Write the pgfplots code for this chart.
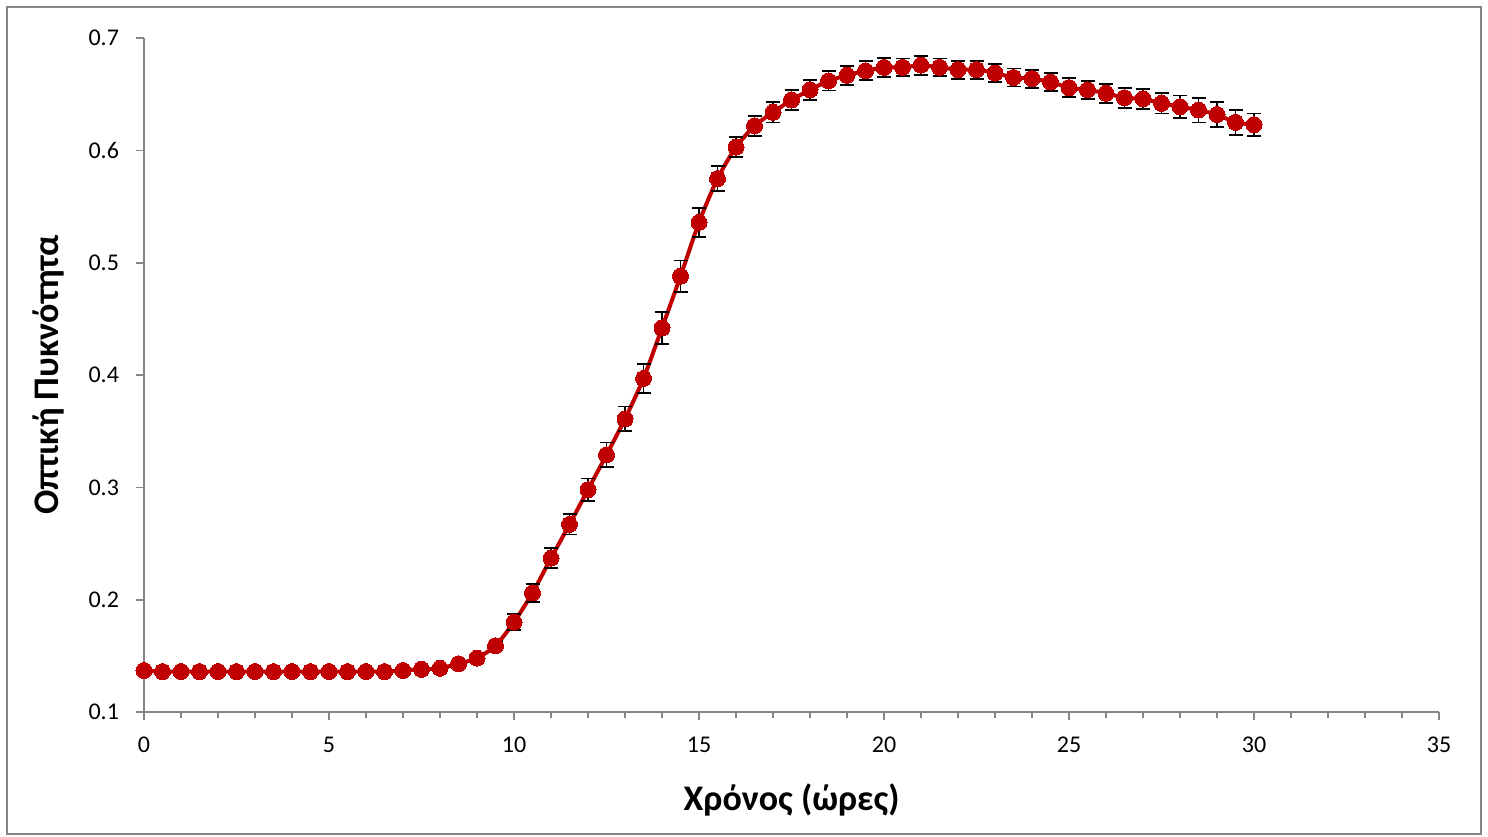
\documentclass[border=0pt]{standalone}
\usepackage{fontspec}
\setmainfont{Carlito}
\usepackage{pgfplots}
\pgfplotsset{compat=1.18}
\usepackage{pgfplotstable}

\definecolor{odred}{HTML}{C00000}
\definecolor{axgray}{HTML}{868686}

% time (h), optical density, standard error
\pgfplotstableread{
t od err
0 0.137 0.002
0.5 0.136 0.002
1 0.136 0.002
1.5 0.136 0.002
2 0.136 0.002
2.5 0.136 0.002
3 0.136 0.002
3.5 0.136 0.002
4 0.136 0.002
4.5 0.136 0.002
5 0.136 0.002
5.5 0.136 0.002
6 0.136 0.002
6.5 0.136 0.002
7 0.137 0.002
7.5 0.138 0.002
8 0.139 0.002
8.5 0.143 0.002
9 0.148 0.003
9.5 0.159 0.004
10 0.180 0.007
10.5 0.206 0.008
11 0.237 0.009
11.5 0.267 0.009
12 0.298 0.010
12.5 0.329 0.011
13 0.361 0.011
13.5 0.397 0.013
14 0.442 0.014
14.5 0.488 0.014
15 0.536 0.013
15.5 0.575 0.011
16 0.603 0.009
16.5 0.622 0.009
17 0.634 0.009
17.5 0.645 0.009
18 0.654 0.009
18.5 0.662 0.0085
19 0.667 0.0085
19.5 0.671 0.0085
20 0.674 0.0085
20.5 0.674 0.008
21 0.676 0.0085
21.5 0.674 0.008
22 0.672 0.008
22.5 0.672 0.008
23 0.669 0.008
23.5 0.665 0.008
24 0.664 0.008
24.5 0.661 0.008
25 0.656 0.0085
25.5 0.654 0.008
26 0.651 0.0085
26.5 0.647 0.009
27 0.646 0.009
27.5 0.642 0.009
28 0.639 0.010
28.5 0.636 0.011
29 0.632 0.011
29.5 0.625 0.011
30 0.623 0.010
}\odtable

\begin{document}
\begin{tikzpicture}
\useasboundingbox (-72pt,-62pt) rectangle (672pt,356pt);
\draw[axgray, line width=0.8pt] (-68.5pt,-61pt) rectangle (668.5pt,352.5pt);
\begin{axis}[
  at={(0pt,0pt)}, anchor=south west,
  scale only axis,
  width=647.5pt, height=336.9pt,
  xmin=0, xmax=35, ymin=0.1, ymax=0.7,
  axis lines*=left,
  axis line style={axgray, line width=0.8pt},
  tick align=outside,
  tick style={axgray, line width=0.8pt},
  major tick length=4pt,
  minor tick length=3pt,
  xtick={0,5,...,35},
  minor x tick num=4,
  ytick={0.1,0.2,...,0.7},
  /pgf/number format/assume math mode=true,
  y tick label style={/pgf/number format/fixed, /pgf/number format/fixed zerofill, /pgf/number format/precision=1},
  ticklabel style={font=\fontsize{12}{14}\selectfont, text=black},
  xticklabel style={yshift=-5pt},
  yticklabel style={xshift=-5pt},
  xlabel={Χρόνος (ώρες)},
  ylabel={Οπτική Πυκνότητα},
  label style={font=\fontsize{18}{21}\selectfont\bfseries},
  xlabel style={at={(axis description cs:0.5,-0.1306)}, anchor=center},
  ylabel style={at={(axis description cs:-0.0741,0.5)}, anchor=center},
  clip=false,
]
\addplot[
  color=odred, line width=2pt, smooth, tension=0.4,
  mark=*, mark size=4pt, mark options={fill=odred, draw=odred, line width=0pt},
  error bars/.cd, y dir=both, y explicit,
  error bar style={black, line width=0.9pt},
  error mark options={rotate=90, mark size=3.5pt, black, line width=0.9pt},
] table[x=t, y=od, y error=err] {\odtable};
\end{axis}
\end{tikzpicture}
\end{document}
